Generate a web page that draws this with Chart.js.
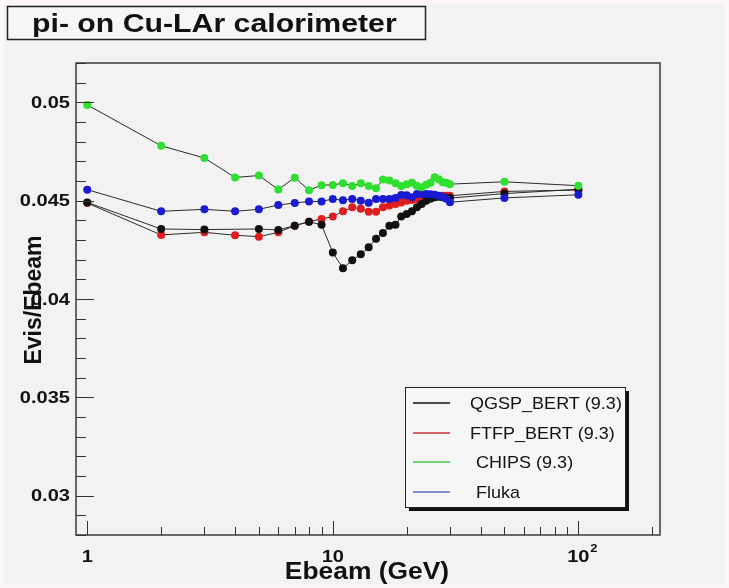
<!DOCTYPE html>
<html>
<head>
<meta charset="utf-8">
<title>pi- on Cu-LAr calorimeter</title>
<script src="https://cdn.jsdelivr.net/npm/chart.js@4.4.0/dist/chart.umd.min.js"></script>
<style>
  html, body { margin: 0; padding: 0; background: #f2f2f2; }
  canvas { display: block; }
</style>
</head>
<body>
<canvas id="caloChart" width="729" height="588"></canvas>
<script>
// beam energies (GeV)
const energies = [1, 2, 3, 4, 5, 6, 7, 8, 9, 10, 11, 12, 13, 14, 15, 16, 17, 18, 19, 20,
                  21, 22, 23, 24, 25, 26, 27, 28, 29, 30, 50, 100];

// Evis/Ebeam per physics list
const qgspBert = [0.04491, 0.04356, 0.04353, null, 0.04356, 0.04351, 0.04373, 0.04393, 0.04377, 0.04236,
                  0.04156, 0.04197, 0.04227, 0.04263, 0.04306, 0.04336, 0.04372, 0.04378, 0.04420, 0.04432,
                  0.04446, 0.04466, 0.04483, 0.04500, 0.04510, 0.04518, 0.04520, 0.04518, 0.04515, 0.04513,
                  0.04536, 0.04558];
const ftfpBert = [0.04488, 0.04326, 0.04339, 0.04324, 0.04317, 0.04339, 0.04373, 0.04393, 0.04407, 0.04419,
                  0.04446, 0.04466, 0.04459, 0.04444, 0.04444, 0.04466, 0.04475, 0.04483, 0.04491, 0.04500,
                  0.04504, 0.04509, 0.04514, 0.04517, 0.04518, 0.04520, 0.04523, 0.04525, 0.04525, 0.04525,
                  0.04547, 0.04554];
const chips    = [0.04987, 0.04779, 0.04717, 0.04618, 0.04628, 0.04557, 0.04617, 0.04553, 0.04579, 0.04580,
                  0.04589, 0.04574, 0.04589, 0.04574, 0.04563, 0.04607, 0.04602, 0.04589, 0.04574, 0.04584,
                  0.04591, 0.04576, 0.04568, 0.04581, 0.04591, 0.04619, 0.04609, 0.04594, 0.04591, 0.04584,
                  0.04596, 0.04576];
const fluka    = [0.04556, 0.04446, 0.04456, 0.04446, 0.04456, 0.04478, 0.04488, 0.04496, 0.04496, 0.04509,
                  0.04502, 0.04509, 0.04500, 0.04490, 0.04509, 0.04509, 0.04509, 0.04513, 0.04529, 0.04528,
                  0.04518, 0.04534, 0.04534, 0.04534, 0.04533, 0.04530, 0.04525, 0.04520, 0.04510, 0.04492,
                  0.04514, 0.04530];

const seriesNames  = ['QGSP_BERT (9.3)', 'FTFP_BERT (9.3)', 'CHIPS (9.3)', 'Fluka'];
const seriesColors = ['#111111', '#e01c1c', '#2ee02e', '#1a1ad0'];
const legendColors = ['#111111', '#c83232', '#46c846', '#6464c0'];

const yTicks      = [0.03, 0.035, 0.04, 0.045, 0.05];
const yTickLabels = ['0.03', '0.035', '0.04', '0.045', '0.05'];
const xTicks      = [1, 10, 100];
const xTickLabels = ['1', '10', '10'];
const xTickSups   = ['', '', '2'];

const chartTitle = 'pi- on Cu-LAr calorimeter';
const xTitle = 'Ebeam (GeV)';
const yTitle = 'Evis/Ebeam';

function toPoints(values) {
    return energies.map((e, i) => ({ x: e, y: values[i] }));
}

// text squeezed/stretched horizontally like the original screenshot
function stretchText(ctx, text, x, y, font, sx, align) {
    ctx.save();
    ctx.font = font;
    ctx.textAlign = align || 'left';
    ctx.translate(x, y);
    ctx.scale(sx, 1);
    ctx.fillText(text, 0, 0);
    ctx.restore();
}

const rootStyle = {
    id: 'rootStyle',
    beforeDraw(chart) {
        const ctx = chart.ctx;
        ctx.save();
        ctx.fillStyle = '#fdf6f6';
        ctx.fillRect(0, 0, chart.width, chart.height);
        ctx.fillStyle = '#f2f2f2';
        ctx.fillRect(4, 5, chart.width - 8, chart.height - 9);

        // title box
        ctx.fillStyle = '#f6f6f6';
        ctx.fillRect(7, 6, 418, 33);
        ctx.strokeStyle = '#222';
        ctx.lineWidth = 1.5;
        ctx.strokeRect(7.5, 6.5, 418, 33);
        ctx.fillStyle = '#111';
        stretchText(ctx, chartTitle, 32, 32, 'bold 25px "Liberation Sans", Arial, sans-serif', 1.21);
        ctx.restore();
    },
    afterDatasetsDraw(chart) {
        const ctx = chart.ctx;
        const a = chart.chartArea;
        const xs = chart.scales.x;
        const ys = chart.scales.y;
        ctx.save();

        // frame
        ctx.strokeStyle = '#3a3a3a';
        ctx.lineWidth = 1.5;
        ctx.strokeRect(a.left, a.top, a.right - a.left, a.bottom - a.top);

        // y ticks (inside)
        ctx.strokeStyle = '#333';
        ctx.lineWidth = 1;
        for (let v = 28; v <= 52; v++) {
            const py = Math.round(ys.getPixelForValue(v / 1000)) + 0.5;
            const len = (v % 5 === 0) ? 18 : 10;
            ctx.beginPath();
            ctx.moveTo(a.left, py);
            ctx.lineTo(a.left + len, py);
            ctx.stroke();
        }
        // x ticks (inside)
        for (let d = 1; d <= 100; d *= 10) {
            for (let m = 1; m <= 9; m++) {
                const v = d * m;
                if (v > xs.max) continue;
                const px = Math.round(xs.getPixelForValue(v)) + 0.5;
                const len = (m === 1) ? 14 : 8;
                ctx.beginPath();
                ctx.moveTo(px, a.bottom);
                ctx.lineTo(px, a.bottom - len);
                ctx.stroke();
            }
        }

        // tick labels
        ctx.fillStyle = '#111';
        ctx.textBaseline = 'middle';
        yTicks.forEach((v, i) => {
            stretchText(ctx, yTickLabels[i], a.left - 6, ys.getPixelForValue(v) + 1,
                'bold 17px "Liberation Sans", Arial, sans-serif', 1.18, 'right');
        });
        ctx.textBaseline = 'alphabetic';
        xTicks.forEach((v, i) => {
            const px = xs.getPixelForValue(v);
            stretchText(ctx, xTickLabels[i], px, 562,
                'bold 17px "Liberation Sans", Arial, sans-serif', 1.18, 'center');
            if (xTickSups[i]) {
                stretchText(ctx, xTickSups[i], px + 12, 552,
                    'bold 11px "Liberation Sans", Arial, sans-serif', 1.18, 'left');
            }
        });

        // axis titles
        stretchText(ctx, xTitle, 367, 579, 'bold 24px "Liberation Sans", Arial, sans-serif', 1.1, 'center');
        ctx.save();
        ctx.translate(41, 300);
        ctx.rotate(-Math.PI / 2);
        ctx.font = 'bold 23px "Liberation Sans", Arial, sans-serif';
        ctx.textAlign = 'center';
        ctx.fillText(yTitle, 0, 0);
        ctx.restore();

        // legend box with shadow
        const lx = 405, ly = 387, lw = 220, lh = 120;
        ctx.fillStyle = '#111';
        ctx.fillRect(lx + 4, ly + 4, lw, lh);
        ctx.fillStyle = '#f6f6f6';
        ctx.fillRect(lx, ly, lw, lh);
        ctx.strokeStyle = '#222';
        ctx.lineWidth = 1;
        ctx.strokeRect(lx + 0.5, ly + 0.5, lw, lh);
        const rows = [403, 433, 462, 492];
        const textX = [470, 470, 476, 476];
        seriesNames.forEach((name, i) => {
            ctx.strokeStyle = legendColors[i];
            ctx.lineWidth = 1.5;
            ctx.beginPath();
            ctx.moveTo(413, rows[i]);
            ctx.lineTo(450, rows[i]);
            ctx.stroke();
            ctx.fillStyle = '#111';
            ctx.textBaseline = 'middle';
            stretchText(ctx, name, textX[i], rows[i] + 1,
                '17px "Liberation Sans", Arial, sans-serif', 1.06, 'left');
        });
        ctx.restore();
    }
};

function renderChart() {
    const all = [qgspBert, ftfpBert, chips, fluka];
    const ctx = document.getElementById('caloChart').getContext('2d');
    new Chart(ctx, {
        type: 'line',
        data: {
            datasets: all.map((vals, i) => ({
                label: seriesNames[i],
                data: toPoints(vals),
                borderColor: '#2a2a2a',
                borderWidth: 1,
                pointBackgroundColor: seriesColors[i],
                pointBorderWidth: 0,
                pointRadius: 4,
                pointHoverRadius: 4,
                spanGaps: true,
                tension: 0,
                fill: false,
                order: [3, 4, 1, 2][i]
            }))
        },
        options: {
            responsive: false,
            animation: false,
            devicePixelRatio: 1,
            events: [],
            layout: { padding: { left: 76, right: 69, top: 63, bottom: 53 } },
            plugins: { legend: { display: false }, tooltip: { enabled: false } },
            scales: {
                x: { type: 'logarithmic', min: 0.9, max: 215, display: false },
                y: { type: 'linear', min: 0.028, max: 0.052, display: false }
            }
        },
        plugins: [rootStyle]
    });
}

document.addEventListener('DOMContentLoaded', renderChart);
</script>
</body>
</html>
